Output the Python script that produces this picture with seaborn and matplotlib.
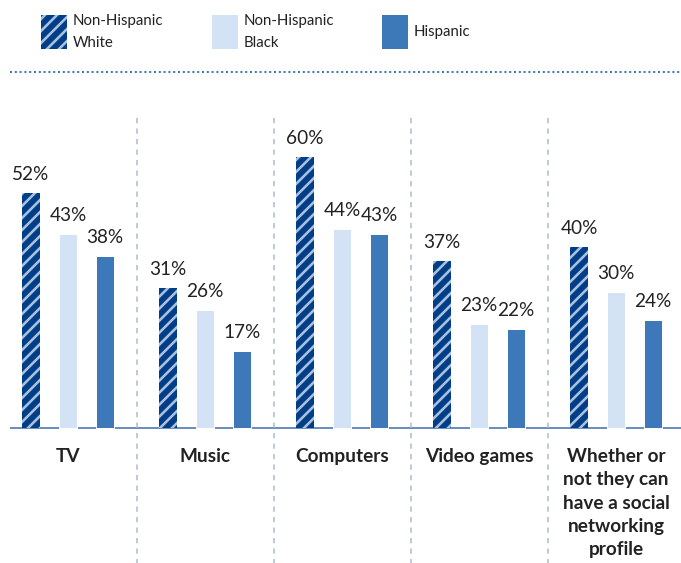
import pandas as pd
import seaborn as sns
import matplotlib.pyplot as plt
from matplotlib.patches import Rectangle

# Data
categories = ['TV', 'Music', 'Computers', 'Video games',
              'Whether or\nnot they can\nhave a social\nnetworking\nprofile']
groups = ['Non-Hispanic\nWhite', 'Non-Hispanic\nBlack', 'Hispanic']
white = [52, 31, 60, 37, 40]
black = [43, 26, 44, 23, 30]
hispanic = [38, 17, 43, 22, 24]

colors = ['#003f87', '#d3e3f5', '#3d78b8']
stripe = '#a9c0e0'
text_c = '#222222'

df = pd.DataFrame({
    'category': categories * 3,
    'group': [groups[0]] * 5 + [groups[1]] * 5 + [groups[2]] * 5,
    'value': white + black + hispanic,
})

sns.set_style('white')
plt.rcParams['font.family'] = ['Lato', 'DejaVu Sans']
plt.rcParams['hatch.linewidth'] = 2.6

W, H, DPI = 681, 563, 72
fig = plt.figure(figsize=(W / DPI, H / DPI), dpi=DPI)
ax = fig.add_axes([0, 0, 1, 1])

sns.barplot(data=df, x='category', y='value', hue='group', hue_order=groups,
            palette=colors, width=0.81, gap=0.49, saturation=1,
            legend=False, ax=ax)

# px mapping: group centre 68px, 137px per group; baseline 428px, 4.52px per %
ax.set_xlim(-68 / 137, (W - 68) / 137)
ax.set_ylim((428 - H) / 4.52, 428 / 4.52)
ax.axis('off')

# hatch the first series
for bar in ax.containers[0]:
    bar.set_hatch('//')
    bar.set_edgecolor(stripe)
    bar.set_linewidth(0)

for cont in ax.containers:
    ax.bar_label(cont, labels=[f'{v:.0f}%' for v in cont.datavalues],
                 padding=10, fontsize=19, color=text_c)

for i, cat in enumerate(categories):
    ax.text(i, (428 - 448) / 4.52, cat, ha='center', va='top', fontsize=19,
            fontweight='bold', color=text_c, linespacing=1.45)

# overlay in pixel coordinates for decoration
lax = fig.add_axes([0, 0, 1, 1], zorder=-1)
lax.set_xlim(0, W)
lax.set_ylim(H, 0)
lax.axis('off')

lax.plot([10, W], [428, 428], color='#6a8fc0', lw=2, solid_capstyle='butt')
lax.plot([10, W], [72, 72], color='#3d78b8', lw=2, ls=(0, (1, 1.4)))
for xd in [137, 274, 411, 548]:
    lax.plot([xd, xd], [118, H], color='#aab9d3', lw=1.5, ls=(0, (3.5, 3.5)))

leg_x = [41, 212, 382]
for j, g in enumerate(groups):
    r = Rectangle((leg_x[j], 15), 26, 34, facecolor=colors[j], lw=0,
                  edgecolor=stripe if j == 0 else colors[j],
                  hatch='//' if j == 0 else None)
    lax.add_patch(r)
    lax.text(leg_x[j] + 32, 32, g, ha='left', va='center', fontsize=15,
             color=text_c, linespacing=1.65)

fig.savefig('out.png', dpi=DPI)
